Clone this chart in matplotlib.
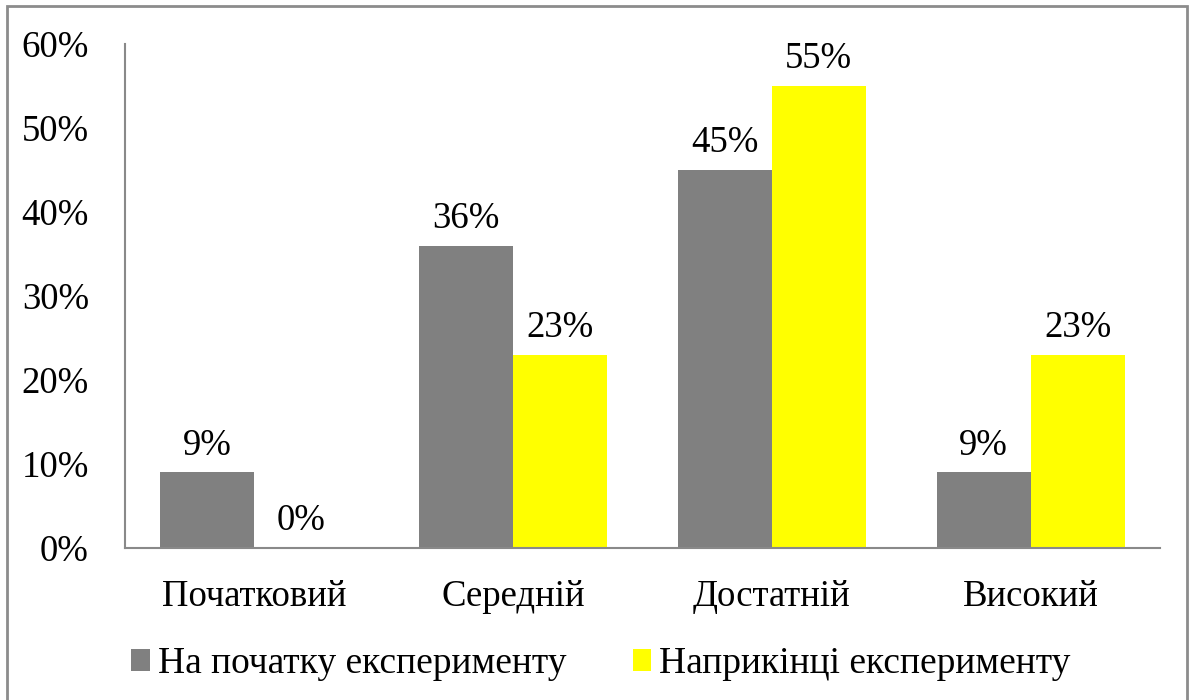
import matplotlib.pyplot as plt
import numpy as np
from matplotlib.patches import Patch, Rectangle

plt.rcParams['font.family'] = ['Liberation Serif', 'DejaVu Serif']

categorias = ['Початковий', 'Середній', 'Достатній', 'Високий']
inicio = [9, 36, 45, 9]
final = [0, 23, 55, 23]
series = ['На початку експерименту', 'Наприкінці експерименту']
colores = ['#808080', '#FFFF00']
yticks = [0, 10, 20, 30, 40, 50, 60]

W, H = 1190, 700
fig = plt.figure(figsize=(W / 100, H / 100), dpi=100)
ax = fig.add_axes([125 / W, (H - 548) / H, (1160 - 125) / W, (548 - 44) / H])

x = np.arange(len(categorias))
ancho = 0.363
b1 = ax.bar(x - ancho / 2, inicio, ancho, color=colores[0], label=series[0])
b2 = ax.bar(x + ancho / 2, final, ancho, color=colores[1], label=series[1])

fs = 26.5
for barras, valores in ((b1, inicio), (b2, final)):
    for rect, v in zip(barras, valores):
        ax.annotate(f'{v}%', (rect.get_x() + rect.get_width() / 2, v),
                    xytext=(0, 7), textcoords='offset points',
                    ha='center', va='bottom', fontsize=fs)

ax.set_xlim(-0.5, 3.5)
ax.set_ylim(0, 60)
ax.set_yticks(yticks)
ax.set_yticklabels([f'{t}%' for t in yticks], fontsize=fs)
ax.set_xticks(x)
ax.set_xticklabels(categorias, fontsize=fs)
ax.tick_params(axis='y', length=0, pad=26)
ax.tick_params(axis='x', length=0, pad=23)

for s in ('top', 'right'):
    ax.spines[s].set_visible(False)
for s in ('left', 'bottom'):
    ax.spines[s].set_color('#898989')
    ax.spines[s].set_linewidth(1.5)

handles = [Patch(facecolor=c) for c in colores]
fig.legend(handles, series, loc='center', bbox_to_anchor=(601 / W, (H - 664) / H),
           ncol=2, frameon=False, fontsize=27, handlelength=0.5, handleheight=0.5,
           handletextpad=0.21, columnspacing=1.76, borderpad=0)

fig.patches.append(Rectangle((7 / W, -0.02), (1187 - 7) / W, (H - 6) / H + 0.02,
                             transform=fig.transFigure, fill=False,
                             edgecolor='#8c8c8c', linewidth=2))

fig.savefig('out.png', dpi=100)
